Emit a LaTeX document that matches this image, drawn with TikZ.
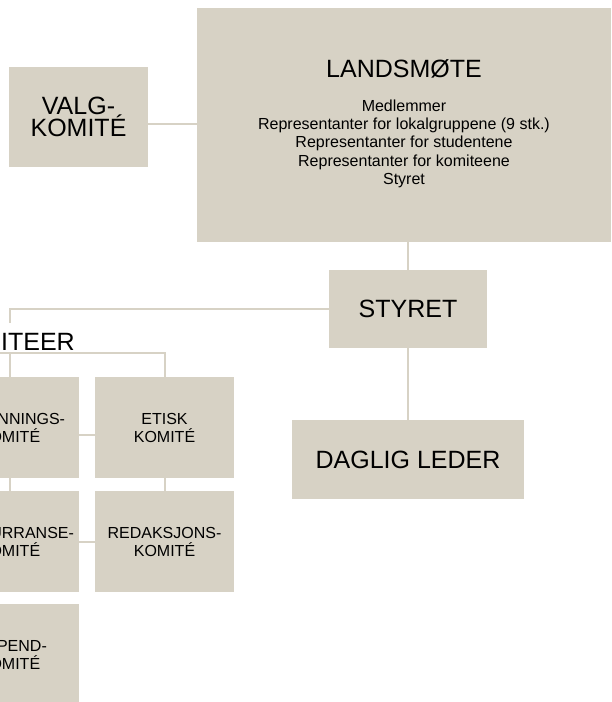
\documentclass[tikz,border=0pt]{standalone}
\usepackage{fontspec}
\setmainfont{Liberation Sans}
\usepackage{tikz}
\usepackage{xcolor}
\definecolor{sand}{RGB}{215,210,197}
\tikzstyle{bigbox} = [rectangle, fill=sand, inner sep=0pt, text centered, font=\fontsize{25}{22.7}\selectfont]
\tikzstyle{smallbox} = [rectangle, fill=sand, inner sep=0pt, minimum width=139pt, minimum height=101pt, text centered, font=\fontsize{16}{18}\selectfont]
\tikzstyle{heading} = [inner sep=0pt, font=\fontsize{25}{25}\selectfont]
\tikzstyle{members} = [inner sep=0pt, align=center, font=\fontsize{16}{18.33}\selectfont]
\tikzstyle{link} = [draw=sand, line width=2pt]

\begin{document}
\begin{tikzpicture}[x=1pt, y=-1pt]
        \useasboundingbox (0,0) rectangle (611,702);
        \clip (0,0) rectangle (611,702);

        \node (valg) [bigbox, minimum width=139pt, minimum height=100pt, align=center] at (78.5,117) {VALG-\\KOMITÉ};
        \node (landsmote) [bigbox, minimum width=414pt, minimum height=234pt] at (404,125) {};
        \node (landsmote_title) [heading, anchor=base] at (404,77) {LANDSMØTE};
        \node (landsmote_members) [members, anchor=north] at (404,99.3) {Medlemmer\\
        Representanter for lokalgruppene (9 stk.)\\ Representanter for studentene\\
        Representanter for komiteene\\ Styret};
        \node (styret) [bigbox, minimum width=158pt, minimum height=78pt] at (408,309) {STYRET};
        \node (daglig_leder) [bigbox, minimum width=232pt, minimum height=79pt] at (408,459.5) {DAGLIG LEDER};
        \node (komiteer) [heading, anchor=base] at (9.5,350) {KOMITEER};
        \coordinate (komiteer_top) at (9.5,323);
        \coordinate (komiteer_bus) at (9.5,353);
        \node (utdanning) [smallbox, align=center] at (9.5,427.5) {UTDANNINGS-\\KOMITÉ};
        \node (etisk) [smallbox, align=center] at (164.5,427.5) {ETISK\\KOMITÉ};
        \node (konkurranse) [smallbox, align=center] at (9.5,541.5) {KONKURRANSE-\\KOMITÉ};
        \node (redaksjon) [smallbox, align=center] at (164.5,541.5) {REDAKSJONS-\\KOMITÉ};
        \node (stipend) [smallbox, align=center] at (9.5,654.5) {STIPEND-\\KOMITÉ};

        \draw [link] ([yshift=-7pt]valg.east) -- ([yshift=-7pt]valg.east -| landsmote.west);
        \draw [link] (styret.north |- landsmote.south) -- (styret.north);
        \draw [link] (styret.west) -| (komiteer_top);
        \draw [link] ([xshift=-40pt]komiteer_bus) -| (etisk.north);
        \draw [link] (komiteer_bus) -- (utdanning.north);
        \draw [link] (utdanning.south) -- (konkurranse.north);
        \draw [link] (etisk.south) -- (redaksjon.north);
        \draw [link] ([yshift=-7.5pt]utdanning.east) -- ([yshift=-7.5pt]etisk.west);
        \draw [link] (konkurranse.east) -- (redaksjon.west);
        \draw [link] (styret.south) -- (daglig_leder.north);

    \end{tikzpicture}
\end{document}
